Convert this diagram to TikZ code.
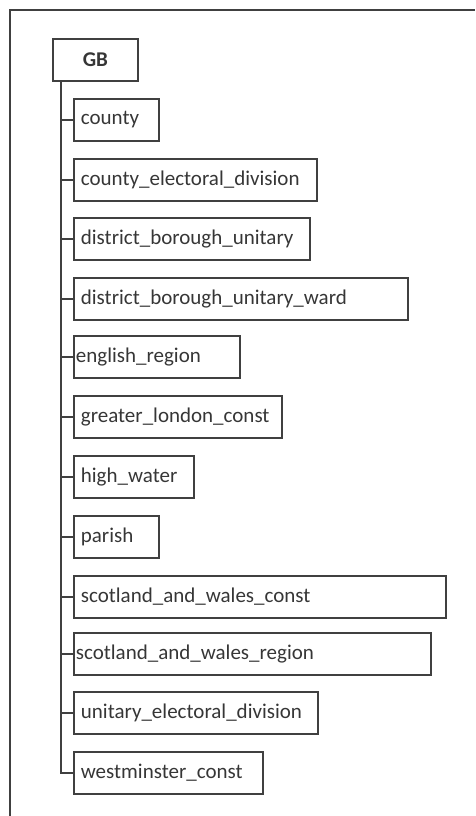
\documentclass[tikz,border=0pt]{standalone}
\usepackage{fontspec}
\setmainfont{Carlito}
\definecolor{ln}{HTML}{404040}
\definecolor{tx}{HTML}{363636}
\begin{document}
\begin{tikzpicture}[x=1pt,y=-1pt,
  box/.style={draw=ln, line width=1.8pt, minimum height=42pt, anchor=north west,
    inner xsep=7pt, inner ysep=0pt, align=left, text=tx,
    font=\fontsize{21}{24}\selectfont},
  flushbox/.style={box, inner xsep=2pt},
  conn/.style={draw=ln, line width=1.8pt}]
\useasboundingbox (0,0) rectangle (475,816);
\draw[ln, line width=1.8pt] (10,816) -- (10,10) -- (475,10);
\node[box, minimum width=85pt, minimum height=42pt, align=center, inner xsep=0pt,
  font=\fontsize{21}{24}\selectfont\bfseries] (GB) at (52,38) {GB};
\coordinate (t) at (61,80);
\node[box, text width=71pt, minimum width=85pt] (n1) at (73,98) {county};
\node[box, text width=229pt] (n2) at (73,158) {county\_electoral\_division};
\node[box, text width=222pt] (n3) at (73,217) {district\_borough\_unitary};
\node[box, text width=320pt] (n4) at (73,277) {district\_borough\_unitary\_ward};
\node[flushbox, text width=162pt] (n5) at (73,335) {english\_region};
\node[box, text width=194pt] (n6) at (73,395) {greater\_london\_const};
\node[box, text width=106pt] (n7) at (73,455) {high\_water};
\node[box, text width=71pt] (n8) at (73,515) {parish};
\node[box, text width=358pt] (n9) at (73,575) {scotland\_and\_wales\_const};
\node[flushbox, text width=353pt] (n10) at (73,632) {scotland\_and\_wales\_region};
\node[box, text width=230pt] (n11) at (73,691) {unitary\_electoral\_division};
\node[box, text width=175pt] (n12) at (73,751) {westminster\_const};
\foreach \n in {n1,n2,n3,n4,n5,n6,n7,n8,n9,n10,n11,n12}
  \draw[conn] (t) |- (\n.west);
\end{tikzpicture}
\end{document}
